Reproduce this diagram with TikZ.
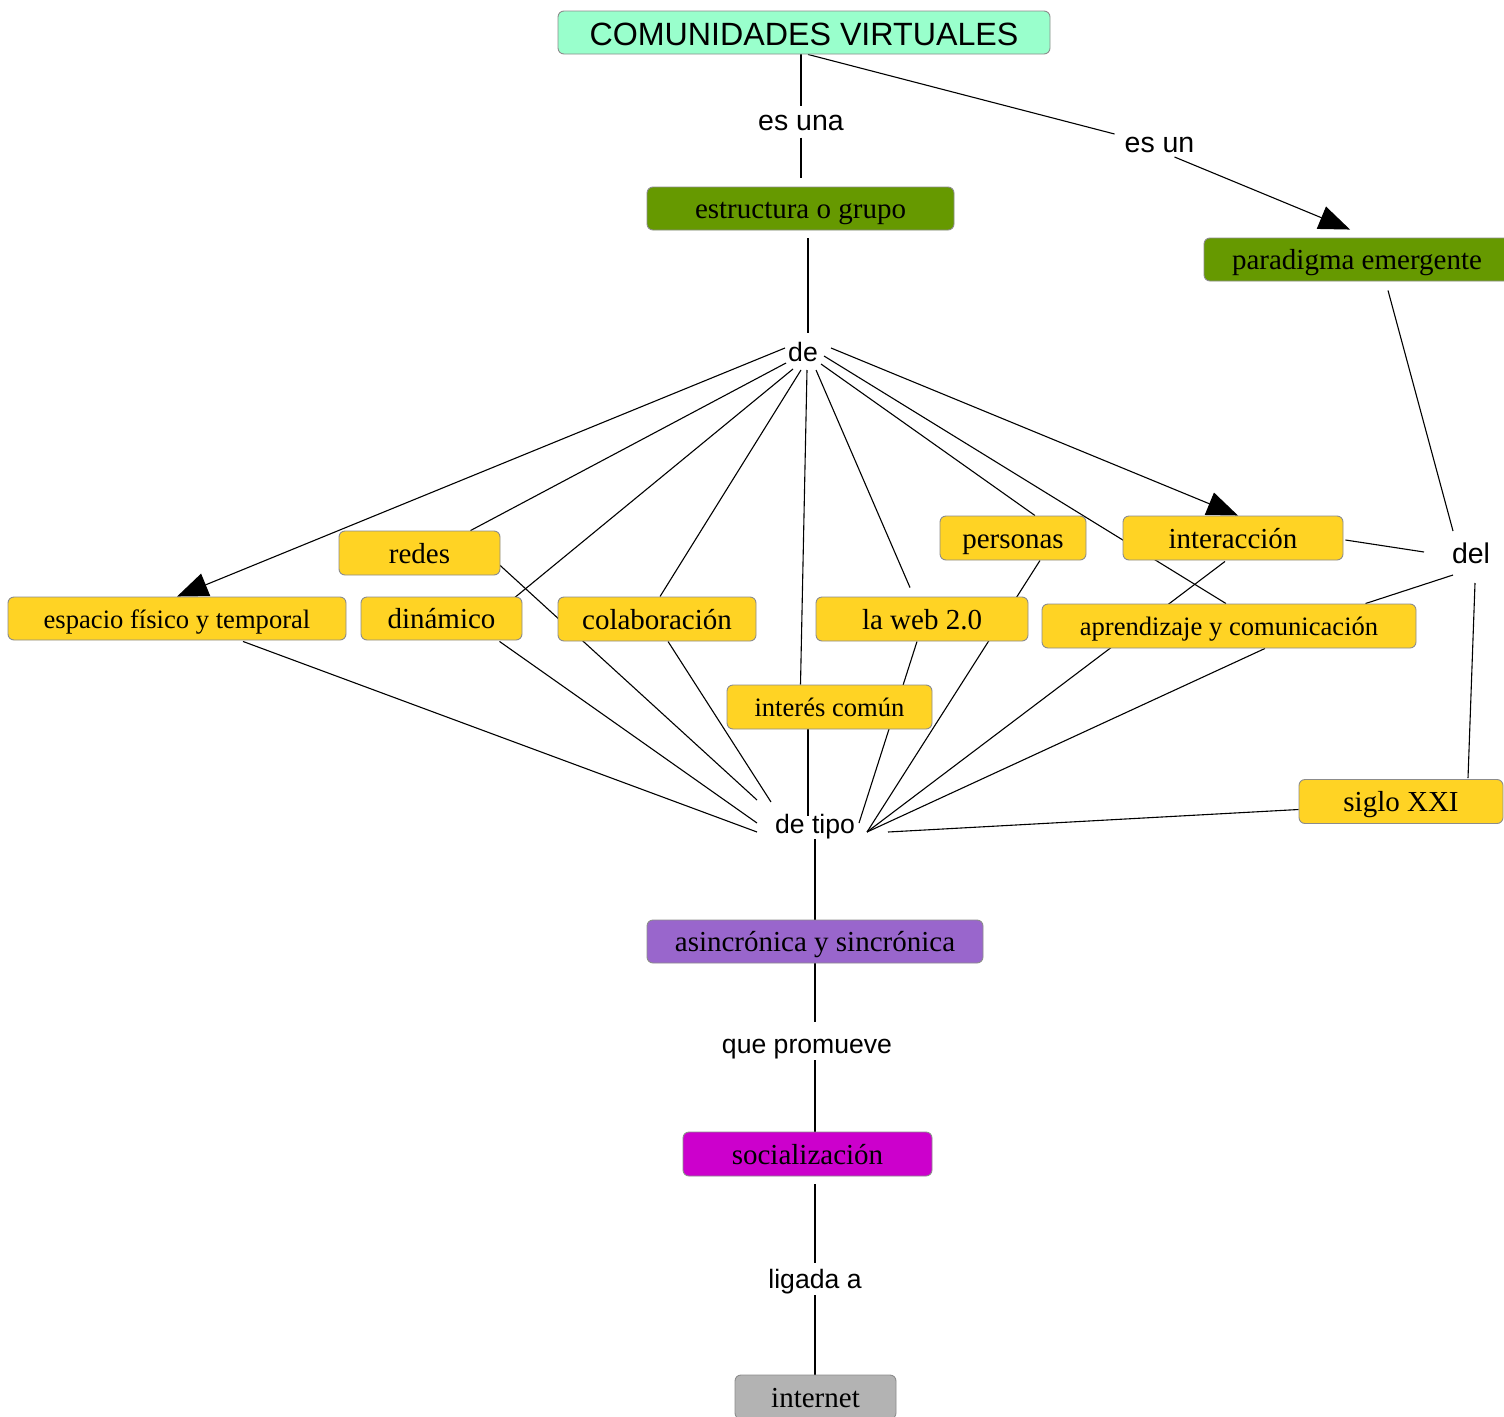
\documentclass[tikz,border=0pt]{standalone}
\usepackage{fontspec}
\setmainfont{Liberation Serif}
\newfontfamily\lsans{Liberation Sans}
\usetikzlibrary{arrows.meta,calc}
\pgfdeclarelayer{back}
\pgfdeclarelayer{bg}
\pgfsetlayers{back,bg,main}
\definecolor{mint}{HTML}{99FFCC}
\definecolor{olive}{HTML}{669900}
\definecolor{cyellow}{HTML}{FFD324}
\definecolor{cpurple}{HTML}{9966CC}
\definecolor{cmagenta}{HTML}{CC00CC}
\definecolor{cgray}{HTML}{B3B3B3}
\definecolor{bordergray}{HTML}{8C8C8C}
\begin{document}
\begin{tikzpicture}[x=1pt,y=-1pt,
  concept/.style={draw=bordergray,line width=0.9pt,rounded corners=6pt,inner sep=0pt,
    minimum height=44pt,font=\fontsize{29}{34}\selectfont,text height=24pt,text depth=4pt},
  smalltext/.style={font=\fontsize{26.6}{32}\selectfont,text height=23pt,text depth=4pt},
  lbl/.style={font=\lsans\fontsize{26.6}{32}\selectfont,inner xsep=6pt,inner ysep=6pt,
    text height=19pt,text depth=1pt},
  biglbl/.style={lbl,font=\lsans\fontsize{28.5}{34}\selectfont},
  conn/.style={line width=1.1pt,black},
  arr/.style={conn,-{Triangle[length=31pt,width=24pt]}}]
\begin{pgfonlayer}{back}
\fill[white] (0,0) rectangle (1504,1416);
\end{pgfonlayer}
\useasboundingbox (0,0) rectangle (1504,1416);

% concepts
\node[concept,fill=mint,minimum width=492pt,minimum height=43pt,
  font=\lsans\fontsize{32.2}{36}\selectfont,text height=25pt,text depth=0pt] (CV) at (804,32.5) {COMUNIDADES VIRTUALES};
\node[concept,fill=olive,minimum width=307pt,minimum height=43pt] (estructura) at (800.5,208.5) {estructura o grupo};
\node[concept,fill=olive,minimum width=306pt,minimum height=43pt] (paradigma) at (1357,259.5) {paradigma emergente};
\node[concept,fill=cyellow,minimum width=338pt,minimum height=43pt,smalltext] (espacio) at (177,618.5) {espacio físico y temporal};
\node[concept,fill=cyellow,minimum width=161pt] (redes) at (419.5,553) {redes};
\node[concept,fill=cyellow,minimum width=161pt,minimum height=43pt] (dinamico) at (441.5,618.5) {dinámico};
\node[concept,fill=cyellow,minimum width=198pt] (colab) at (657,619) {colaboración};
\node[concept,fill=cyellow,minimum width=212pt] (web) at (922,619) {la web 2.0};
\node[concept,fill=cyellow,minimum width=205pt,smalltext] (interes) at (829.5,707) {interés común};
\node[concept,fill=cyellow,minimum width=146pt] (personas) at (1013,538) {personas};
\node[concept,fill=cyellow,minimum width=220pt] (interaccion) at (1233,538) {interacción};
\node[concept,fill=cyellow,minimum width=374pt,smalltext] (aprend) at (1229,626) {aprendizaje y comunicación};
\node[concept,fill=cyellow,minimum width=204pt] (siglo) at (1401,801.5) {siglo XXI};
\node[concept,fill=cpurple,minimum width=336pt,minimum height=43pt] (asinc) at (815,941.5) {asincrónica y sincrónica};
\node[concept,fill=cmagenta,minimum width=249pt] (social) at (807.5,1154) {socialización};
\node[concept,fill=cgray,minimum width=161pt] (internet) at (815.5,1397) {internet};

% linking phrases
\node[biglbl] (esuna) at (801,121.7) {es una};
\node[biglbl] (esun) at (1159.5,143) {es un};
\node[lbl] (de) at (803,352) {de};
\node[biglbl] (del) at (1471,554) {del};
\node[lbl] (detipo) at (815,824) {de tipo};
\node[lbl] (quep) at (807,1044) {que promueve};
\node[lbl] (ligada) at (815,1279) {ligada a};

\begin{pgfonlayer}{bg}
% top
\draw[conn] (esuna |- CV.south) -- ($(esuna.center)+(0,-16)$);
\draw[conn] ($(esuna.center)+(0,16)$) -- ($(esuna |- estructura.north)+(0,-9)$);
\draw[conn] ($(CV.south)+(4,0)$) -- ($(esun.center)+(-45,-9)$);
\draw[arr] ($(esun.center)+(15,14)$) -- ($(paradigma.north)+(-7,-8)$);
\draw[conn] ($(estructura.south)+(7.5,8)$) -- ($(de.center)+(5,-19)$);
% fan from "de"
\draw[arr] ($(de.center)+(-18,-4)$) -- (espacio.north);
\draw[conn] ($(de.center)+(-17,11)$) -- ($(redes.north)+(51,0)$);
\draw[conn] ($(de.center)+(-10,17)$) -- ($(dinamico.north east)+(-15,7)$);
\draw[conn] ($(de.center)+(-2,18)$) -- ($(colab.north)+(3,0)$);
\draw[conn] ($(de.center)+(4,18)$) -- ($(interes.north)+(-29,0)$);
\draw[conn] ($(de.center)+(13,18)$) -- ($(web.north)+(-12,-9)$);
\draw[conn] ($(de.center)+(18,12)$) -- ($(personas.north)+(22,0)$);
\draw[conn] ($(de.center)+(21,4)$) -- ($(aprend.north)+(-3,0)$);
\draw[arr] ($(de.center)+(28,-4)$) -- ($(interaccion.north)+(5,0)$);
% to "de tipo"
\draw[conn] ($(espacio.south)+(66,1)$) -- ($(detipo.center)+(-58,8)$);
\draw[conn] ($(redes.east)+(-3,10)$) -- ($(detipo.center)+(-58,-24)$);
\draw[conn] ($(dinamico.south)+(58,1)$) -- ($(detipo.center)+(-58,-1)$);
\draw[conn] ($(colab.south)+(11,0)$) -- ($(detipo.center)+(-44,-22)$);
\draw[conn] ($(interes.south)+(-21.5,0)$) -- ($(detipo.center)+(-7,-8)$);
\draw[conn] ($(web.south)+(-5,0)$) -- ($(detipo.center)+(44,-1)$);
\draw[conn] ($(personas.south)+(27,0)$) -- ($(detipo.center)+(52,8)$);
\draw[conn] ($(interaccion.south)+(-8,1)$) -- ($(detipo.center)+(52,8)$);
\draw[conn] ($(aprend.south)+(36,0)$) -- ($(detipo.center)+(52,8)$);
\draw[conn] ($(siglo.west)+(0,8)$) -- ($(detipo.center)+(73,8)$);
% "del"
\draw[conn] ($(paradigma.south)+(31,9)$) -- ($(del.center)+(-18,-23)$);
\draw[conn] ($(interaccion.east)+(2,2)$) -- ($(del.center)+(-47,-2)$);
\draw[conn] ($(del.center)+(-18,21)$) -- ($(aprend.north east)+(-51,0)$);
\draw[conn] ($(del.center)+(4,29)$) -- ($(siglo.north)+(67,-1)$);
% bottom chain
\draw[conn] ($(detipo.center)+(0,15)$) -- (asinc.north);
\draw[conn] (asinc.south) -- ($(asinc.south |- quep.center)+(0,-22)$);
\draw[conn] ($(asinc.south |- quep.center)+(0,16)$) -- (asinc.south |- social.north);
\draw[conn] ($(asinc.south |- social.south)+(0,8)$) -- ($(ligada.center)+(0,-16)$);
\draw[conn] ($(ligada.center)+(0,16)$) -- (internet.north -| ligada.center);
\end{pgfonlayer}
\end{tikzpicture}
\end{document}
